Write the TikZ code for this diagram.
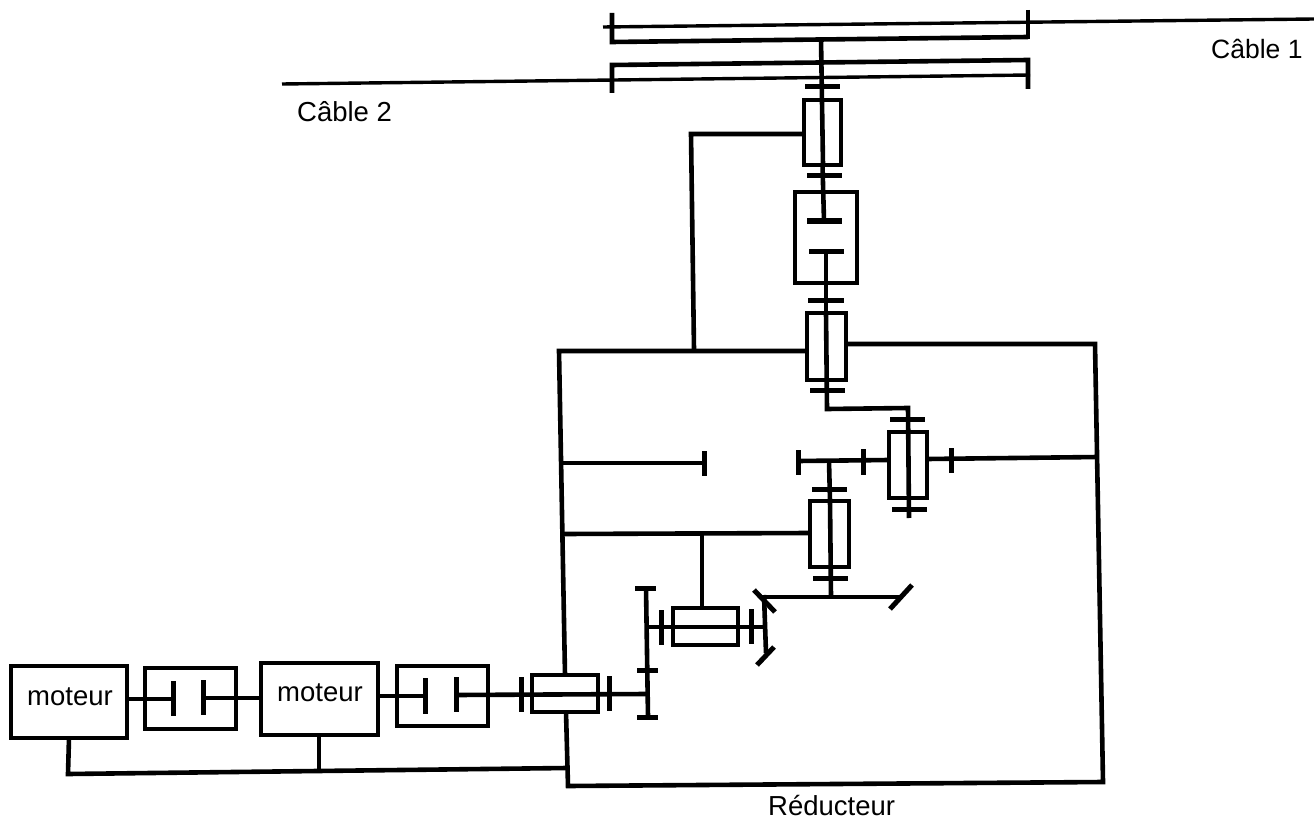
\documentclass[tikz,border=0pt]{standalone}
\usepackage{fontspec}
\setmainfont{Liberation Sans}
\newcommand{\gbox}[5]{\node[kbox,minimum width=#3pt-#1pt,minimum height=#4pt-#2pt] (#5) at ({(#1+#3)/2},{(#2+#4)/2}) {};}
\newcommand{\gbar}[4]{\draw[gearbar] (#1,#2) -- (#3,#4);}
\tikzset{
  kbox/.style={draw=black,line width=4.6pt,fill=none,inner sep=0pt,outer sep=0pt,rectangle},
  shaft/.style={draw=black,line width=4.6pt,line join=miter},
  cable/.style={draw=black,line width=3.4pt},
  gearbar/.style={draw=black,line width=5pt},
  lab/.style={font=\fontsize{27.5}{30}\selectfont,text=black,inner sep=0pt}
}
\begin{document}
\begin{tikzpicture}[x=1pt,y=-1pt]
\useasboundingbox (0,0) rectangle (1314,821);
% boxes
\gbox{11}{666}{127}{738}{m1}
\gbox{145}{668}{236}{729}{c1}
\gbox{261}{663}{378}{735}{m2}
\gbox{397}{666}{488}{726}{c2}
\gbox{532}{675}{598}{712}{b7}
\gbox{673}{608}{738}{645}{b6}
\gbox{810}{501}{849}{567}{b5}
\gbox{889}{432}{927}{498}{b4}
\gbox{807}{313}{846}{380}{b3}
\gbox{795}{192}{857}{283}{b2}
\gbox{804}{100}{841}{165}{b1}
% labels
\node[lab] (tm1) at (70,697) {moteur};
\node[lab] (tm2) at (320,693) {moteur};
\node[lab,font=\fontsize{26.5}{30}\selectfont,anchor=west] (tc1) at (1211,49) {Câble 1};
\node[lab,anchor=west] (tc2) at (297,112) {Câble 2};
\node[lab,anchor=west] (tr) at (768,806) {Réducteur};
% junction coordinates
\coordinate (rtl) at (559,351);
\coordinate (rtr) at (1095,344);
\coordinate (rbl) at (568,786);
\coordinate (rbr) at (1103,782);
\coordinate (rlow) at (565,675);
\coordinate (ljoin) at (567,768);
\coordinate (lk1) at (691,134);
\coordinate (lk2) at (694,350);
\coordinate (c1l) at (173,699);
\coordinate (c1r) at (203,698);
\coordinate (c2l) at (425,696);
\coordinate (c2r) at (456,695);
\coordinate (cab1a) at (603,27);
\coordinate (cab1b) at (1314,19);
\coordinate (cab2a) at (282,84);
\coordinate (cab2b) at (1030,75);
% cables
\draw[cable] (cab1a) -- (cab1b);
\draw[cable] (cab2a) -- (cab2b);
% drums
\draw[shaft] (612,13) -- (612,42) -- (1028,37);
\draw[shaft] (1028,10) -- (1028,39);
\draw[shaft] (612,93) -- (612,65) -- (1028,60) -- (1028,89);
% central shafts
\draw[shaft] (821,39) -- (823,165);
\gbar{805}{87}{840}{87}
\draw[shaft] (b1.south) -- (824,221);
\gbar{807}{176}{842}{176}
\gbar{807}{221}{842}{221}
\gbar{809}{251}{844}{251}
\draw[shaft] (826,251) -- (826,313);
\gbar{808}{300}{844}{300}
\draw[shaft] (826,313) -- (827,409) -- (908,408) -- (909,518);
\gbar{810}{390}{845}{390}
\gbar{890}{419}{925}{419}
\gbar{892}{509}{927}{509}
% link from b1
\draw[shaft] (b1.west |- lk1) -- (lk1) -- (lk2);
% reducer casing
\draw[shaft] (b3.west |- rtl) -- (rtl) -- (rlow);
\draw[shaft] (b3.east |- rtr) -- (rtr) -- (rbr) -- (rbl) -- (566,712);
% internal arms
\draw[shaft] (563,463) -- (703,463);
\gbar{704}{451}{704}{476}
\draw[shaft] (563,534) -- (b5.west |- 0,533);
\draw[shaft] (702,533) -- (702,608);
\draw[shaft] (798,461) -- (889,460);
\gbar{798}{450}{798}{475}
\gbar{863}{449}{863}{475}
\draw[shaft] (927,459) -- (1098,457);
\gbar{951}{448}{951}{473}
\draw[shaft] (829,461) -- (830,501);
\gbar{812}{489}{847}{489}
\draw[shaft] (830,501) -- (831,597);
\gbar{813}{578}{848}{578}
% bevel gears
\draw[shaft] (764,597) -- (900,597);
\gbar{890}{609}{912}{585}
\gbar{754}{590}{775}{612}
\gbar{757}{665}{774}{647}
\draw[shaft] (764,595) -- (766,653);
\draw[shaft] (646,627) -- (765,627);
\gbar{661}{610}{661}{645}
\gbar{751}{609}{751}{644}
% large gear
\draw[shaft] (646,588) -- (648,717);
\gbar{635}{588}{656}{588}
\gbar{637}{717}{658}{717}
\gbar{637}{670}{658}{670}
% input shaft
\draw[shaft] (c2r) -- (647,694);
\gbar{521}{677}{521}{712}
\gbar{609}{676}{609}{711}
% clutches
\draw[shaft] (m1.east |- c1l) -- (c1l);
\draw[shaft] (c1r) -- (m2.west |- c1r);
\gbar{173}{681}{173}{716}
\gbar{203}{680}{203}{715}
\draw[shaft] (m2.east |- c2l) -- (c2l);
\gbar{425}{678}{425}{714}
\gbar{456}{677}{456}{712}
% frame
\draw[shaft] (m1.south) -- (68,774) -- (ljoin);
\draw[shaft] (319,735) -- (319,770);
\end{tikzpicture}
\end{document}
